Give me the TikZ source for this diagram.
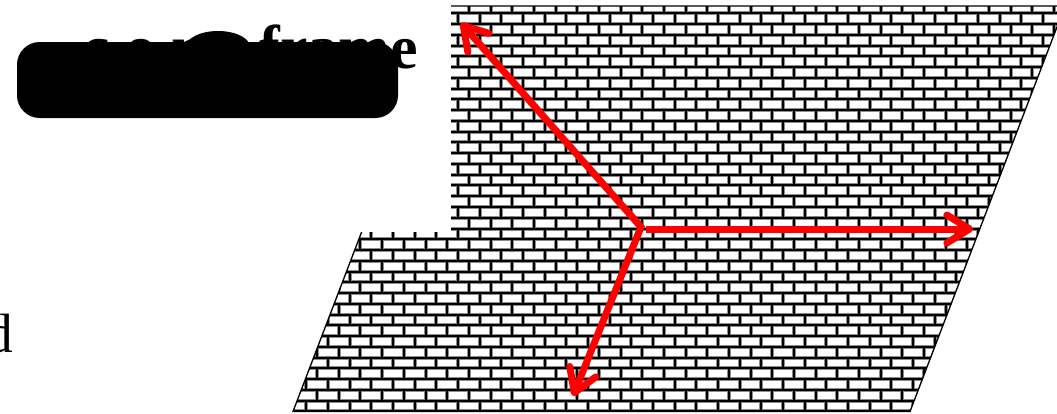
\documentclass[tikz,border=0pt]{standalone}
\usepackage{fontspec}
\setmainfont{Liberation Serif}
\usetikzlibrary{arrows.meta}

\tikzset{
  mortarshade/.style={line width=3pt, black!45},
  mortar/.style={line width=1.5pt, black},
  redaxis/.style={red, line width=5.25pt, line join=miter},
  barbtip/.tip={Straight Barb[round, length=17pt, width=21pt]},
}

\begin{document}
\begin{tikzpicture}[x=0.75pt, y=-0.75pt]
            \useasboundingbox (0,0) rectangle (1057,414);

            % Brick wall plane
            \begin{scope}
              \clip (293,411.5) -- (910,411.5) -- (1065,6) -- (448,6) -- cycle;
              \foreach \s in {mortarshade, mortar}{
                \draw[\s] foreach \r [evaluate=\r as \y using 2.54+10.76*\r] in {0,...,38} {(280,\y) -- (1070,\y)};
                \draw[\s] foreach \r [evaluate=\r as \y using 2.54+10.76*\r, evaluate=\r as \xo using {13.77-10.835*mod(\r,2)}] in {0,...,37} {foreach \n in {13,...,49} {(\xo+21.67*\n,\y) -- ++(0,10.76)}};
              }
            \end{scope}
            \draw[line width=1pt] (293,411.5) -- (910,411.5) -- (1065,6) -- (448,6) -- cycle;

            % Cut-out corner for the caption
            \fill[white] (0,0) rectangle (451,232);

            % Caption
            \node[font=\fontsize{46.5}{50}\selectfont\bfseries, anchor=base east, inner sep=0] (title) at (418,68) {c.o.m. frame};
            \node[font=\fontsize{41.5}{45}\selectfont, anchor=base east, inner sep=0] (dlabel) at (13,352) {d};
            \fill[black, rounded corners=17pt] (17,42) rectangle (398,118);
            \fill[black] (218,47) ellipse [x radius=24pt, y radius=12pt];

            % Axes
            \coordinate (origin) at (641,227);
            \coordinate (originr) at (646,229);
            \coordinate (axisx) at (973,229);
            \coordinate (axisy) at (461,23);
            \coordinate (axisz) at (573,396);
            \draw[redaxis, barbtip-barbtip] (axisy) -- (origin) -- (axisz);
            \draw[redaxis, -barbtip] (originr) -- (axisx);
        \end{tikzpicture}
\end{document}
